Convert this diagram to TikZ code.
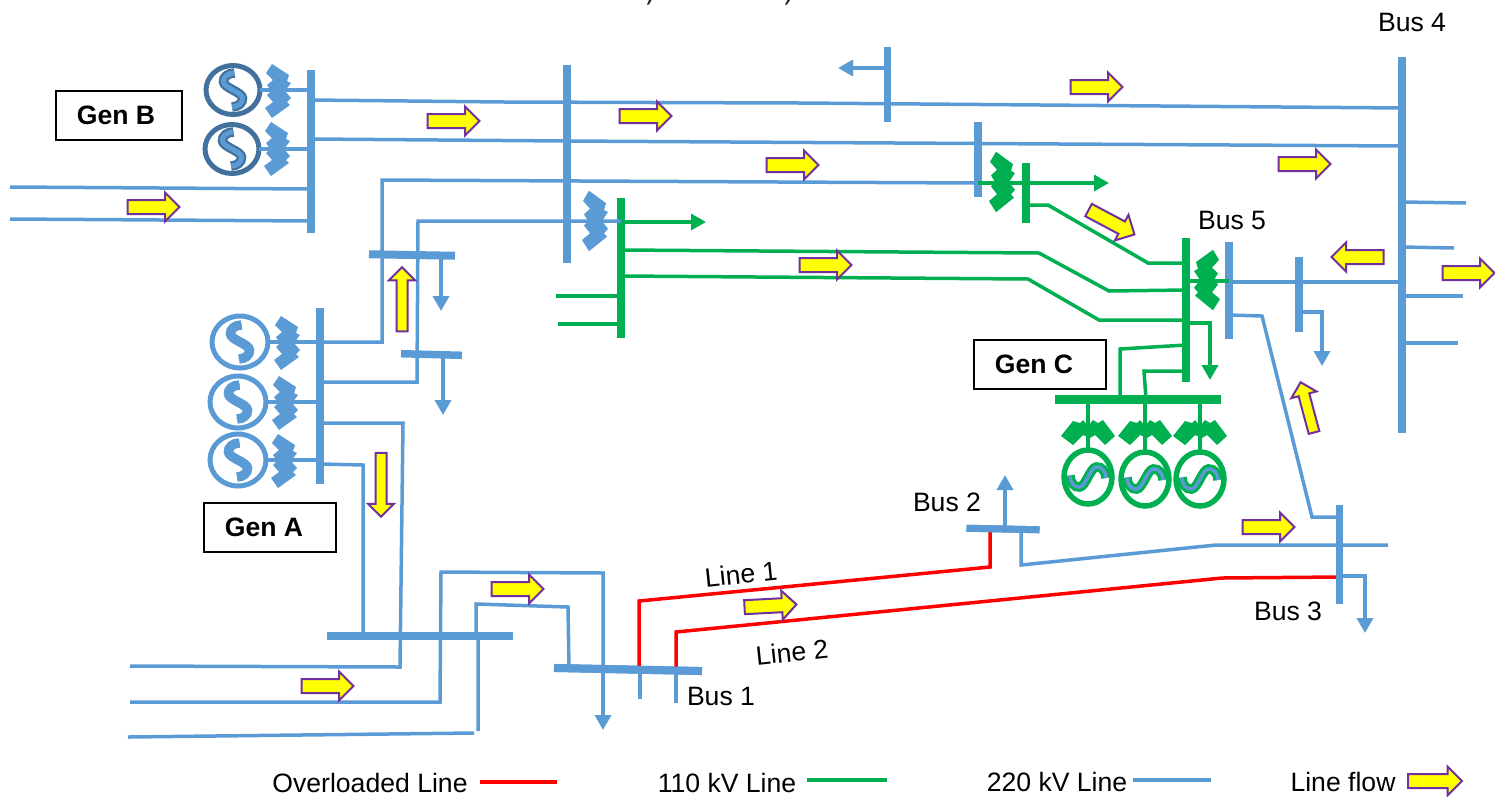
\documentclass[tikz,border=0pt]{standalone}
\usepackage{fontspec}
\setmainfont{Liberation Sans}
\definecolor{blue220}{RGB}{91,155,213}
\definecolor{darkgen}{RGB}{65,113,156}
\definecolor{green110}{RGB}{0,176,80}
\definecolor{overred}{RGB}{255,0,0}
\definecolor{flowpurple}{RGB}{112,48,160}
\definecolor{flowyellow}{RGB}{255,255,0}
\definecolor{markgray}{RGB}{38,38,38}
\usetikzlibrary{positioning,arrows.meta,shapes.geometric,shapes.arrows,calc}
\newcommand{\wavepath}{(1.5,-17) .. controls (-5,-17) and (-10,-13) .. (-9.5,-8) .. controls (-9,-2) and (9,2) .. (9.5,8) .. controls (10,13) and (5,17) .. (-1,17)}
\tikzset{
  pics/xfmr/.style={code={
    \fill[#1] (-12,-18) -- (-6,-27) -- (11,-16) -- (9,-10) -- (13,-8) -- (7,0) -- (13,7) -- (9,11) -- (12,14)
      -- (-6,27) -- (-13,17) -- (-5,11) -- (-11,4) -- (-7,0) -- (-11,-6) -- (-5,-11) -- cycle;
  }},
  pics/xfmrc/.style={code={
    \fill[#1] (-27,3) -- (-15,-12) -- (-8,-10) -- (-5,-13) -- (0,-7) -- (5,-13) -- (10,-10) -- (15,-13) -- (27,3)
      -- (17,12) -- (7,2) -- (2,5) -- (-5,2) -- (-15,12) -- cycle;
  }},
  pics/wave/.style n args={3}{code={
    \draw[#1, line width=9.5pt] \wavepath;
    \draw[#2, line width=#3pt] \wavepath;
  }}
}

\begin{document}
\begin{tikzpicture}[
  x=1pt, y=-1pt,
  line220/.style={draw=blue220, line width=3.5pt},
  line110/.style={draw=green110, line width=3.5pt},
  overload/.style={draw=overred, line width=3.5pt},
  load220/.style={line220, -{Triangle[width=16pt,length=15pt]}},
  load110/.style={line110, -{Triangle[width=16pt,length=15pt]}},
  bar220/.style={rectangle, fill=blue220, inner sep=0pt, outer sep=0pt},
  bar110/.style={rectangle, fill=green110, inner sep=0pt, outer sep=0pt},
  gen/.style={ellipse, draw=#1, line width=5pt, inner sep=0pt, outer sep=0pt, fill=white},
  genc/.style={gen=green110, line width=5.5pt, minimum width=48pt, minimum height=54pt},
  genbox/.style={draw=black, line width=2pt, fill=white, minimum width=126pt, minimum height=49pt, font=\bfseries\fontsize{26.6}{30}\selectfont},
  lbl/.style={font=\fontsize{26.6}{30}\selectfont, inner sep=0pt},
  flow/.style={single arrow, draw=flowpurple, fill=flowyellow, line width=2pt, inner xsep=0pt, inner ysep=6pt, minimum height=52pt, single arrow head extend=7.5pt},
  flowthin/.style={flow, inner ysep=4.5pt, minimum height=64pt}
]
\useasboundingbox (0,0) rectangle (1495,796);

% generators
\node[gen=darkgen, minimum width=54pt, minimum height=49pt] (genB1) at (233,90) {};
\node[gen=darkgen, minimum width=54pt, minimum height=49pt] (genB2) at (232,149) {};
\node[gen=blue220, minimum width=56pt, minimum height=52pt] (genA1) at (240,342) {};
\node[gen=blue220, minimum width=56pt, minimum height=52pt] (genA2) at (238,402) {};
\node[gen=blue220, minimum width=56pt, minimum height=52pt] (genA3) at (238,460) {};
\node[genc] (genC1) at (1088,477) {};
\node[genc] (genC2) at (1145,479) {};
\node[genc] (genC3) at (1200,479) {};

% busbars
\node[bar220, minimum width=8pt, minimum height=163pt] (busB) at (311,151.5) {};
\node[bar220, minimum width=8pt, minimum height=198pt] (busU) at (567,164) {};
\node[bar220, minimum width=7pt, minimum height=75pt] (busTop) at (887,84.5) {};
\node[bar220, minimum width=8pt, minimum height=75pt] (busM) at (978,159.5) {};
\node[bar220, minimum width=8pt, minimum height=97pt] (bus5) at (1229,290.5) {};
\node[bar220, minimum width=8pt, minimum height=75pt] (busR) at (1299,294.5) {};
\node[bar220, minimum width=8pt, minimum height=376pt] (bus4) at (1402,245) {};
\node[bar220, minimum width=8pt, minimum height=176pt] (busA) at (320,396) {};
\node[bar220, minimum width=86pt, minimum height=8pt, rotate=-1] (busS1) at (412,255) {};
\node[bar220, minimum width=61pt, minimum height=7.5pt, rotate=-1.5] (busS2) at (431.5,354.5) {};
\node[bar220, minimum width=186pt, minimum height=8pt] (busL) at (420,636) {};
\node[bar220, minimum width=148pt, minimum height=8pt, rotate=-1.2] (bus1) at (628,669.5) {};
\node[bar220, minimum width=73pt, minimum height=7pt, rotate=-1.2] (bus2) at (1003,529) {};
\node[bar220, minimum width=7.5pt, minimum height=99pt] (bus3) at (1339.5,554.5) {};
\node[bar110, minimum width=8pt, minimum height=140pt] (busG1) at (621,268) {};
\node[bar110, minimum width=8pt, minimum height=60pt] (busG2) at (1026,193) {};
\node[bar110, minimum width=8pt, minimum height=144pt] (busG3) at (1186,310) {};
\node[bar110, minimum width=166pt, minimum height=8.5pt] (busGC) at (1138,399.5) {};

% free ends
\coordinate (inB1) at (10,187);
\coordinate (inB2) at (10,219);
\coordinate (inL1) at (130,666);
\coordinate (inL2) at (130,702);
\coordinate (inL3) at (128,737);
\coordinate (endL3) at (474,733);
\coordinate (endL4) at (478,731);
\coordinate (stub1) at (640,699);
\coordinate (stub2) at (676,703);
\coordinate (end3) at (1388,545);
\coordinate (stubA) at (1466,203);
\coordinate (stubB) at (1454,248);
\coordinate (stubC) at (1463,296);
\coordinate (stubD) at (1458,343);
\coordinate (stubG1) at (556,296);
\coordinate (stubG2) at (558,324);
\coordinate (tipTop) at (838,68);
\coordinate (tipS1) at (441,311);
\coordinate (tipS2) at (443,415);
\coordinate (tipB1) at (603,730);
\coordinate (tipB2) at (1005,475);
\coordinate (tipB3) at (1365,633);
\coordinate (tipR) at (1322,366);
\coordinate (tipG1) at (706,222);
\coordinate (tipG2) at (1109,183);
\coordinate (tipG3) at (1210,380);

% 220 kV lines
\draw[line220] (busB.center |- 0,100) -- (505,102) -- (800,103) -- (bus4.center |- 0,108);
\draw[line220] (busB.center |- 0,139) -- (567,141) -- (1060,144) -- (bus4.center |- 0,146);
\draw[line220] (inB1) -- (busB.center |- 0,189);
\draw[line220] (inB2) -- (busB.center |- 0,221);
\draw[line220] (busA.center |- 0,342) -- (382,342) -- (382,180) -- (busM.center |- 0,183);
\draw[line220] (busA.center |- 0,382) -- (417,382) -- (418,221) -- (busG1.center |- 0,221);
\draw[line220] (busA.center |- 0,423) -- (403,423) -- (400,667) -- (inL1);
\draw[line220] (busA.center |- 0,464) -- (363,465) -- (busL.center -| 363,0);
\draw[line220] (inL2) -- (440,702) -- (441,572) -- (603,573) -- (bus1.center -| 603,0);
\draw[line220] (inL3) -- (endL3);
\draw[line220] (endL4) -- (478,636) -- (busL.center -| 476,0) -- (476,604) -- (568,607) -- (bus1.center -| 569,0);
\draw[line220] (bus1.center -| 640,0) -- (stub1);
\draw[line220] (bus1.center -| 676,0) -- (stub2);
\draw[line220] (bus2.center -| 1021,0) -- (1021,565) -- (1216,545) -- (end3);
\draw[line220] (bus5.center |- 0,315) -- (1262,316) -- (1312,517) -- (bus3.center |- 0,517);
\draw[line220] (bus5.center |- 0,282) -- (bus4.center |- 0,282);
\draw[line220] (bus4.center |- 0,202) -- (stubA);
\draw[line220] (bus4.center |- 0,247) -- (stubB);
\draw[line220] (bus4.center |- 0,296) -- (stubC);
\draw[line220] (bus4.center |- 0,343) -- (stubD);
\draw[line220] (genB1.east) -- (busB.center |- genB1.east);
\draw[line220] (genB2.east) -- (busB.center |- genB2.east);
\draw[line220] (genA1.east) -- (busA.center |- genA1.east);
\draw[line220] (genA2.east) -- (busA.center |- genA2.east);
\draw[line220] (genA3.east) -- (busA.center |- genA3.east);

% loads
\draw[load220] (busTop.center |- tipTop) -- (tipTop);
\draw[load220] (busS1.center -| tipS1) -- (tipS1);
\draw[load220] (busS2.center -| tipS2) -- (tipS2);
\draw[load220] (bus1.center -| tipB1) -- (tipB1);
\draw[load220] (bus2.center -| tipB2) -- (tipB2);
\draw[load220] (bus3.center |- 0,576) -- (1365,576) -- (tipB3);
\draw[load220] (busR.center |- 0,312) -- (1322,312) -- (tipR);

% 110 kV lines
\draw[line110] (busG1.center |- 0,250) -- (1039,253) -- (1109,291) -- (busG3.center |- 0,290);
\draw[line110] (busG1.center |- 0,276) -- (1028,279) -- (1099,320) -- (busG3.center |- 0,320);
\draw[line110] (busG2.center |- 0,205) -- (1048,205) -- (1148,263) -- (busG3.center |- 0,263);
\draw[line110] (stubG1) -- (busG1.center |- stubG1);
\draw[line110] (stubG2) -- (busG1.center |- stubG2);
\draw[line110] (busM.center |- 0,183) -- (busG2.center |- 0,183);
\draw[line110] (busG3.center |- 0,281) -- (bus5.center |- 0,281);
\draw[line110] (busG3.center |- 0,345) -- (1120,349) -- (busGC.center -| 1120,0);
\draw[line110] (busG3.center |- 0,371) -- (1144,371) -- (busGC.center -| 1146,0);
\draw[line110] (genC1.north) -- (busGC.center -| genC1.north);
\draw[line110] (genC2.north) -- (busGC.center -| genC2.north);
\draw[line110] (genC3.north) -- (busGC.center -| genC3.north);
\draw[load110] (busG1.center |- tipG1) -- (tipG1);
\draw[load110] (busG2.center |- tipG2) -- (tipG2);
\draw[load110] (busG3.center |- 0,323) -- (1210,323) -- (tipG3);

% overloaded lines
\draw[overload] (bus1.center -| 639,0) -- (639,601) -- (990,567) -- (bus2.center -| 990,0);
\draw[overload] (bus1.center -| 676,0) -- (676,632) -- (1222,578) -- (bus3.center |- 0,577);

% busbars over the line ends
\node[bar220, minimum width=148pt, minimum height=8pt, rotate=-1.2] at (bus1) {};
\node[bar220, minimum width=73pt, minimum height=7pt, rotate=-1.2] at (bus2) {};
\node[bar220, minimum width=7.5pt, minimum height=99pt] at (bus3) {};

% transformers
\pic (tB1) at (278,91) {xfmr=blue220};
\pic (tB2) at (277,149) {xfmr=blue220};
\pic (tA1) at (287,343) {xfmr=blue220};
\pic (tA2) at (285,403) {xfmr=blue220};
\pic (tA3) at (284,461) {xfmr=blue220};
\pic[yscale=1.12] (tU) at (595,221) {xfmr=blue220};
\pic[yscale=1.12] (tM) at (1002,182) {xfmr=green110};
\pic[xscale=-1, yscale=1.12] (t5) at (1207,280) {xfmr=green110};
\pic (tC1) at (1088,433) {xfmrc=green110};
\pic (tC2) at (1145,433) {xfmrc=green110};
\pic (tC3) at (1200,433) {xfmrc=green110};

% generator windings
\pic (wB1) at (genB1) {wave={darkgen}{blue220}{5}};
\pic (wB2) at (genB2) {wave={darkgen}{blue220}{5}};
\pic (wA1) at (genA1) {wave={blue220}{blue220}{5}};
\pic (wA2) at (genA2) {wave={blue220}{blue220}{5}};
\pic (wA3) at (genA3) {wave={blue220}{blue220}{5}};
\pic[rotate=90, scale=1.06] (wC1) at (genC1) {wave={green110}{blue220}{3.5}};
\pic[rotate=90, scale=1.06] (wC2) at (genC2) {wave={green110}{blue220}{3.5}};
\pic[rotate=90, scale=1.06] (wC3) at (genC3) {wave={green110}{blue220}{3.5}};

% line flow arrows
\node[flow] (f1) at (150,207) {};
\node[flow] (f2) at (450,121) {};
\node[flow] (f3) at (642,116) {};
\node[flow] (f4) at (789,165) {};
\node[flow] (f5) at (1093,87) {};
\node[flow] (f6) at (1301,164) {};
\node[flow] (f7) at (822,265) {};
\node[flow, rotate=-28] (f8) at (1108.4,220.6) {};
\node[flow, rotate=180] (f9) at (1361,257) {};
\node[flow] (f10) at (1465,273) {};
\node[flowthin, rotate=105, minimum height=52pt] (f11) at (1308,410) {};
\node[flowthin, rotate=90] (f12) at (402,302) {};
\node[flowthin, rotate=-90] (f13) at (381,482) {};
\node[flow] (f14) at (514,589) {};
\node[flow] (f15) at (324,686) {};
\node[flow, rotate=3] (f16) at (767,606) {};
\node[flow] (f17) at (1265,527) {};

% generator boxes
\node[genbox] (boxB) at (119,115) {\hspace*{-6pt}Gen B};
\node[genbox, minimum width=132pt] (boxA) at (270,527) {\hspace*{-12pt}Gen A};
\node[genbox, minimum width=132pt] (boxC) at (1040,364) {\hspace*{-12pt}Gen C};

% labels
\node[lbl] (labB4) at (1412,22) {Bus 4};
\node[lbl] (labB5) at (1232,220) {Bus 5};
\node[lbl] (labB2) at (947,502) {Bus 2};
\node[lbl] (labB3) at (1288,611) {Bus 3};
\node[lbl] (labB1) at (721,696) {Bus 1};
\node[lbl, rotate=6] (labL1) at (741,574) {Line 1};
\node[lbl, rotate=6] (labL2) at (792,652) {Line 2};

% legend
\node[lbl] (legOver) at (370,782.5) {Overloaded Line};
\node[lbl] (leg110) at (727,782.5) {110 kV Line};
\node[lbl] (leg220) at (1057,782) {220 kV Line};
\node[lbl] (legFlow) at (1343,782) {Line flow};
\coordinate (legR) at (557,782);
\coordinate (legG) at (887,780);
\coordinate (legB) at (1211,780);
\draw[overload] (legOver.east |- legR) ++(12,0) -- (legR);
\draw[line110] (leg110.east |- legG) ++(11,0) -- (legG);
\draw[line220] (leg220.east |- legB) ++(6,0) -- (legB);
\node[flow, minimum height=54pt] (fLeg) at (1431.5,781) {};

% cut off marks on the top edge
\fill[markgray] (647,4.5) -- (649,4.5) -- (651.5,0) -- (649,0) -- cycle;
\fill[markgray] (785,4.5) -- (787,4.5) -- (790,0) -- (787.5,0) -- cycle;
\end{tikzpicture}
\end{document}
